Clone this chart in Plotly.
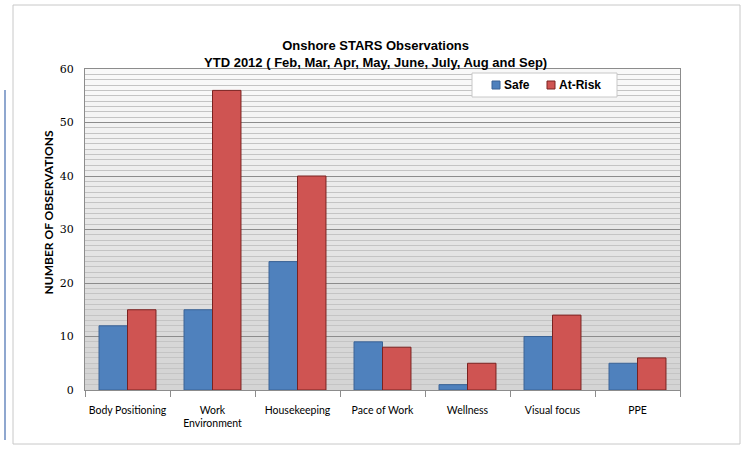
import plotly.graph_objects as go

categories = ["Body Positioning", "Work<br>Environment", "Housekeeping", "Pace of Work",
              "Wellness", "Visual focus", "PPE"]
safe = [12, 15, 24, 9, 1, 10, 5]
at_risk = [15, 56, 40, 8, 5, 14, 6]
y_ticks = [0, 10, 20, 30, 40, 50, 60]
series_names = ["Safe", "At-Risk"]
series_colors = ["#4F81BD", "#CF5452"]
series_edges = ["#3A6396", "#7A2220"]

W, H = 750, 449
L, R, T, B = 85, 70, 69, 59
PW, PH = W - L - R, H - T - B
def px(x): return (x - L) / PW
def py(y): return (H - B - y) / PH

fig = go.Figure()
for name, vals, col, edge in zip(series_names, [safe, at_risk], series_colors, series_edges):
    fig.add_trace(go.Bar(name=name, x=categories, y=vals, showlegend=False,
                         marker=dict(color=col, line=dict(color=edge, width=1))))

# gradient-like plot background
n = 12
for i in range(n):
    g = 248 - int(i * 40 / n)
    fig.add_shape(type="rect", xref="x domain", yref="y domain",
                  x0=0, x1=1, y0=1 - (i + 1) / n, y1=1 - i / n,
                  fillcolor=f"rgb({g},{g},{g})", line=dict(width=0), layer="below")

fig.update_layout(
    width=W, height=H,
    margin=dict(l=L, r=R, t=T, b=B, autoexpand=False),
    paper_bgcolor="white",
    plot_bgcolor="rgba(0,0,0,0)",
    barmode="group",
    bargap=0.33,
    bargroupgap=0,
    title=dict(text="<b>Onshore STARS Observations<br>YTD 2012 ( Feb, Mar, Apr, May, June, July, Aug and Sep)</b>",
               x=px(383), xanchor="center", y=1 - 50 / H, yanchor="top",
               font=dict(family="Liberation Sans Narrow, Arial Narrow, Liberation Sans", size=13, color="black")),
    showlegend=False,
    font=dict(family="Lato", size=11, color="black"),
)

fig.update_xaxes(showline=True, linecolor="#8c8c8c", linewidth=1, mirror=True,
                 ticks="outside", tickson="boundaries", ticklen=6, tickcolor="#8c8c8c",
                 tickangle=0, automargin=False, ticklabelstandoff=10,
                 tickfont=dict(family="Lato", size=10.5, color="black"))
fig.update_yaxes(range=[0, 60], tickvals=y_ticks, showline=True, linecolor="#8c8c8c",
                 linewidth=1, mirror=True, automargin=False,
                 showgrid=True, gridcolor="#8c8c8c", gridwidth=1,
                 minor=dict(dtick=1, showgrid=True, gridcolor="#c4c4c4", gridwidth=1),
                 tickfont=dict(family="DejaVu Serif", size=11, color="black"),
                 ticks="", ticklabelstandoff=8, zeroline=False)

fig.add_annotation(text="<b>NUMBER OF OBSERVATIONS</b>", xref="paper", yref="paper",
                   x=px(38), y=py(213), textangle=-90, showarrow=False,
                   font=dict(family="Lato", size=12, color="black"))

# legend box drawn manually
fig.add_shape(type="rect", xref="paper", yref="paper",
              x0=px(472), x1=px(617), y0=py(97), y1=py(73),
              fillcolor="white", line=dict(color="#c8c8c8", width=1))
for sx, name, col, edge in zip([492, 547], series_names, series_colors, series_edges):
    fig.add_shape(type="rect", xref="paper", yref="paper",
                  x0=px(sx), x1=px(sx + 8), y0=py(89), y1=py(81),
                  fillcolor=col, line=dict(color=edge, width=1))
    fig.add_annotation(text=f"<b>{name}</b>", xref="paper", yref="paper",
                       x=px(sx + 10), y=py(85), xanchor="left", yanchor="middle",
                       showarrow=False,
                       font=dict(family="Liberation Sans Narrow, Liberation Sans", size=12, color="black"))

# outer chart border and left edge line
fig.add_shape(type="rect", xref="paper", yref="paper",
              x0=px(13), x1=px(740), y0=py(444), y1=py(5),
              line=dict(color="#c8c8c8", width=1), layer="below")
fig.add_shape(type="line", xref="paper", yref="paper",
              x0=px(5), x1=px(5), y0=py(440), y1=py(90),
              line=dict(color="#8fa7cf", width=2), layer="below")

fig.write_html("out.html", config={"displayModeBar": False},
               post_script="document.body.style.margin='0px';")
